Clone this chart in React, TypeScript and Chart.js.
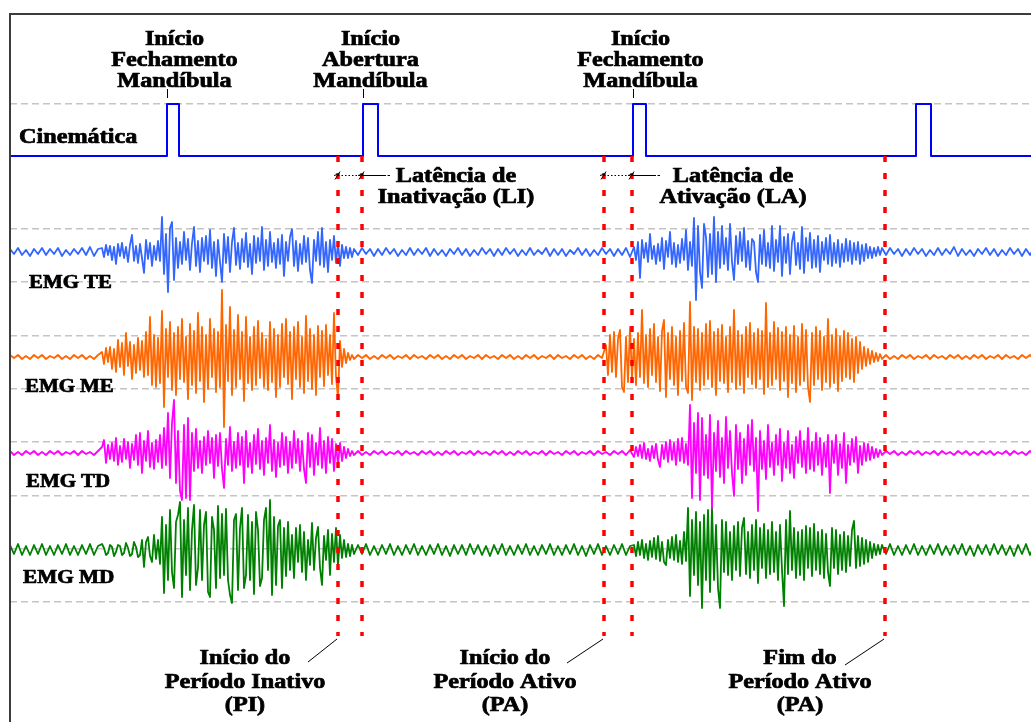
import React, { useEffect, useRef } from "react";
import { Chart, registerables } from "chart.js";

Chart.register(...registerables);

// ---------------- DATA ----------------
// Each EMG trace is stored as segments: resting parts sampled every 0.04 s,
// bursts sampled every 0.02 s. Amplitudes in arbitrary units.
const REST_STEP = 0.04;
const BURST_STEP = 0.02;

// segment start times (s): rest1, burst1, rest2, burst2, rest3
const teStarts = [0, 0.92, 3.48, 6.24, 8.76];
const meStarts = [0, 0.92, 3.48, 5.96, 8.76];
const tdStarts = [0, 0.92, 3.48, 6.24, 8.76];
const mdStarts = [0, 0.92, 3.48, 6.24, 8.76];

// ---- EMG TE (blue)
const teRest1 = [3, -2, 4, -3, 2, -4, 3, -2, 4, -3, 3, -2, 4, -4, 2, -3, 3, -2, 4, -3, 5, -4, 3];
const teBurst1 = [
  4, -5, 7, -3, 6, -8, 5, -12, 8, -4,
  9, -6, 5, -10, 7, 17, -9, 6, -11, 8,
  -6, -21, 12, -7, 9, -14, 6, -8, 11, -9,
  35, -22, 18, -40, 24, 30, -28, 14, -16, 10,
  -12, 20, -8, 13, -18, 9, 25, -14, 11, -20,
  14, -9, 16, -12, 22, -16, 10, -24, 12, -10,
  -30, 18, -11, 15, -20, 10, 24, -13, 9, -17,
  13, -10, 19, -15, 8, -22, 16, -11, 14, -9,
  25, -18, 12, -14, 20, -10, 9, -16, 13, -12,
  17, -24, 10, -9, 15, 23, -14, 11, -19, 8,
  -12, 16, -10, 14, -18, -31, 12, -9, 20, -13,
  24, -15, 10, -20, 12, -8, 16, -11, 9, -14,
  7, -6, 5, -6, 4, -5, 3,
];
const teRest2 = [
  -3, 4, -2, 3, -4, 3, -3, 4, -2, 3, -4, 2, -3, 4, -3, 3, -2, 4, -4, 3,
  -3, 2, -4, 3, -2, 4, -3, 3, -4, 2, -3, 4, -2, 3, -4, 3, -3, 4, -2, 3,
  -4, 2, -3, 4, -3, 2, -2, 4, -4, 3, -3, 3, -4, 2, -2, 4, -3, 3, -4, 2,
  -3, 4, -2, 3, -4, 3, -3, 4, -5,
];
const teBurst2 = [
  5, -8, 10, -26, 12, -6, 9, -10, 18, -7,
  6, -12, 8, -9, 14, -17, 11, -5, 20, -12,
  9, -15, 7, -11, 13, -8, 22, -18, 10, -14,
  34, -48, 26, -20, -36, 28, 15, -25, 18, -22,
  35, -30, 20, -16, 26, -12, 14, -18, 28, -10,
  -28, 16, -12, 20, -9, 24, -15, 11, -18, 13,
  10, -20, -30, 17, -12, 22, -14, 9, -16, 26,
  -19, 12, -10, 26, -24, 15, -11, 18, -22, 10,
  20, -13, 9, -17, 25, -21, 14, -9, 19, -16,
  12, -15, 16, -20, 10, -8, 14, -12, 17, -14,
  9, -11, 12, -15, 8, -10, 13, -9, 11, -12,
  9, -8, 10, -12, 7, -9, 8, -6, 5, -6,
  4, -4, 5, -3, 4,
];
const teRest3 = [
  -3, 4, -2, 3, -4, 3, -3, 4, -2, 3, -4, 2, -3, 4, -3, 3, -2, 5, -4, 3,
  -3, 2, -4, 3, -2, 4, -3, 3, -4, 2, -3, 4, -2, 3, -4, 3, -3, 4,
];

// ---- EMG ME (orange)
const meRest1 = [2, -1, 2, -2, 1, -2, 2, -1, 2, -2, 1, -1, 2, -2, 1, -2, 2, -1, 2, -2, 1, -2, 2];
const meBurst1 = [
  5, -7, 9, -5, 10, -12, 8, -15, 17, -10,
  14, -18, 24, -9, 15, -22, 12, -16, 19, -13,
  16, -20, 25, -18, 40, -28, 22, -30, 19, -26,
  46, -50, 28, -20, 35, -33, 24, -38, 30, -22,
  38, -25, 20, -42, 33, -28, 26, -36, 44, -24,
  30, -45, 22, -32, 38, -20, 28, -35, 25, -30,
  67, -70, 32, -24, 50, -38, 27, -30, 42, -22,
  25, -44, 40, -26, 20, -33, 30, -28, 36, -21,
  24, -30, 18, -33, 35, -25, 28, -40, 22, -30,
  33, -20, 38, -27, 25, -42, 30, -22, 35, -30,
  20, -36, 41, -24, 28, -32, 22, -38, 31, -20,
  26, -29, 32, -18, 22, -27, 44, -20, -41, 16,
  -10, 8, -6, 4, -3, 2, -2,
];
const meRest2 = [
  2, -1, 2, -2, 1, -2, 2, -1, 2, -2, 1, -1, 2, -2, 2, -1, 1, -2, 2, -1,
  2, -2, 1, -2, 2, -1, 2, -2, 1, -1, 2, -2, 2, -1, 1, -2, 2, -1, 2, -2,
  1, -2, 2, -1, 2, -2, 1, -1, 2, -2, 2, -1, 1, -2, 2, -1, 2, -2, 1, -2,
  2, -1,
];
const meBurst2 = [
  12, -18, 22, -15, 25, -20, 18, 27, -30, -35,
  20, -25, 30, -22, 18, -28, 24, -20, 47, -26,
  22, -30, 28, -18, 33, -25, 20, -34, 26, 37,
  -40, 24, -22, 30, -28, 20, -38, 26, -24, 34,
  -30, -36, 55, -43, 30, -25, 28, -33, 24, -28,
  33, -22, 36, -30, 25, -38, 28, -24, 32, -26,
  20, -35, 30, -25, 47, -32, 26, -28, 22, -36,
  30, -20, 34, -27, 24, -31, 28, -22, 26, -37,
  54, -30, 24, -28, 35, -22, 29, -33, 25, -24,
  30, -40, 22, -26, 31, -35, 20, -28, 33, -24,
  27, -30, -45, 24, -28, 30, -22, 26, -33, 20,
  -25, 38, -30, 22, -26, 28, -34, 20, -24, 26,
  -20, 24, -22, 18, -25, 20, -16, 15, -12, 10,
  -9, 8, -7, 6, -5, 4, -4, 3, -2,
];
const meRest3 = [
  2, -2, 1, -2, 2, -1, 2, -2, 1, -1, 2, -2, 2, -1, 1, -2, 2, -1, 2, -2,
  1, -2, 2, -1, 2, -2, 1, -1, 2, -2, 2, -1, 1, -2, 2, -1, 2, -2,
];

// ---- EMG TD (magenta)
const tdRest1 = [2, -2, 1, -2, 2, -1, 2, -2, 1, -2, 2, -1, 2, -2, 1, -1, 2, -2, 2, -1, 1, -2, 2];
const tdBurst1 = [
  6, 13, -10, 8, -6, 10, -8, 15, -12, 7,
  -9, 14, -6, 11, -15, 9, -7, 18, -12, 20,
  -20, 12, -8, 22, -14, 10, -16, 13, -9, 18,
  -15, 25, -12, 40, -25, 30, 53, -30, 22, -38,
  -47, 28, -45, 35, -47, 20, -18, 24, -15, 12,
  -20, 16, -12, 22, -10, 15, -25, 18, -13, 20,
  -16, -35, 14, -12, 26, -18, 11, -15, 20, -12,
  16, -30, 22, -14, 10, -20, 18, -11, 24, -16,
  12, -22, 15, -10, 28, -18, 13, -24, 10, -14,
  20, -12, 16, -20, 11, -15, 22, -10, 14, -18,
  12, -16, -30, 20, -14, 18, -22, 10, -12, 25,
  -15, 12, -20, 16, -10, 14, -18, 9, -12, 10,
  -8, 6, -5, 4, -3, 2, -2,
];
const tdRest2 = [
  2, -2, 1, -2, 2, -1, 2, -2, 1, -1, 2, -2, 2, -1, 1, -2, 2, -1, 2, -2,
  1, -2, 2, -1, 2, -2, 1, -1, 2, -2, 2, -1, 1, -2, 2, -1, 2, -2, 1, -2,
  2, -1, 2, -2, 1, -1, 2, -2, 2, -1, 1, -2, 2, -1, 2, -2, 1, -1, 2, -2,
  2, -1, 1, -2, 2, -1, 2, -2, 3,
];
const tdBurst2 = [
  -4, 6, -3, 8, -5, 10, -6, 4, -8, 7,
  -5, 9, -7, -14, 8, -6, 11, -9, 13, -7,
  10, -12, 14, -8, 15, -10, 9, -12, 48, -45,
  30, -20, 40, -47, 35, -22, 18, -25, 38, -55,
  20, -18, 32, -24, 15, -30, 36, -15, 22, -20,
  -43, 28, -16, 20, -30, 14, -22, 28, -12, 33,
  -18, 15, -58, 22, -16, 12, -26, 28, -14, 10,
  -22, 18, -12, 24, -28, 10, -15, 22, -20, 8,
  -25, 16, -10, 22, -14, 12, -20, 25, -16, 11,
  -18, 20, -12, 15, -22, 10, -14, 18, -40, 12,
  -10, 18, -22, 9, -15, 20, -30, 8, -12, 14,
  -9, 16, -20, 7, -12, 10, -8, 9, -7, 6,
  -5, 4, -4, 3, -2,
];
const tdRest3 = [
  2, -1, 2, -2, 1, -2, 2, -1, 2, -2, 1, -1, 2, -2, 2, -1, 1, -2, 2, -1,
  2, -2, 1, -2, 2, -1, 2, -2, 1, -1, 2, -2, 2, -1, 1, -2, 2, -1,
];

// ---- EMG MD (green)
const mdRest1 = [5, -4, 6, -5, 4, -5, 5, -4, 6, -5, 4, -5, 5, -4, 6, -5, 4, -5, 5, -4, 6, -5, 4];
const mdBurst1 = [
  6, 2, -5, -3, 5, 3, -6, -2, 5, 4,
  -5, -3, 7, 2, -6, -4, 8, 3, -7, -5,
  10, -17, 8, 13, -6, -12, 15, -9, 10, -14,
  33, -43, 25, -30, 40, -22, -38, 28, 35, 48,
  -47, 30, -25, 42, -40, 20, 45, -35, -18, 40,
  -30, 25, 38, -42, -47, 33, 20, -38, 44, -28,
  36, -25, 41, -30, -45, -53, 30, 36, -40, 22,
  42, -38, -25, 35, -30, 28, -44, 38, 20, -36,
  -28, 30, 42, -20, 50, -45, 33, -35, 24, 30,
  -38, 22, -26, 28, -20, 15, -28, 22, -12, 25,
  -22, 18, -30, 10, -15, 27, -20, 12, 23, -18,
  -35, 14, -10, 20, -25, 16, -12, 22, -16, 15,
  -8, 10, -7, 6, -6, 5, -4,
];
const mdRest2 = [
  5, -4, 6, -5, 4, -5, 5, -4, 6, -5, 4, -5, 5, -4, 6, -5, 4, -5, 5, -4,
  6, -5, 4, -6, 5, -4, 5, -5, 6, -4, 5, -5, 4, -6, 5, -4, 6, -5, 4, -5,
  5, -4, 6, -5, 4, -5, 5, -4, 6, -5, 4, -5, 5, -4, 6, -5, 4, -6, 5, -4,
  6, -5, 4, -5, 5, -4, 6, -5, 4,
];
const mdBurst2 = [
  5, -6, 8, -5, 10, -8, 6, -10, 9, -7,
  12, -9, 14, -11, 8, -12, -15, 10, -8, 13,
  -10, 15, -12, 9, -14, 18, -11, 42, -46, 30,
  -25, 38, -35, 28, -58, 35, -30, 40, -42, 43,
  -30, 25, -38, -58, 30, -22, 28, -25, 18, -30,
  24, -20, 28, -26, 22, 32, -24, 18, -28, 25,
  -20, 30, -33, 22, -18, 26, -28, 20, -24, 28,
  -22, 18, -30, 25, -20, -56, 30, -24, 39, -20,
  22, -28, 18, -25, 20, -30, 24, -18, 22, -26,
  26, -20, 18, -24, 20, -28, 16, -22, -36, 22,
  -18, 20, -24, 15, -20, 18, -22, 14, -16, 20,
  29, -18, 14, -16, 12, -14, 10, -12, 8, -8,
  6, -5, 5, -4, 5,
];
const mdRest3 = [
  -4, 6, -5, 4, -5, 5, -4, 6, -5, 4, -5, 5, -4, 6, -5, 4, -5, 5, -4, 6,
  -5, 4, -6, 5, -4, 5, -5, 6, -4, 5, -5, 4, -6, 5, -4, 6, -5, 4,
];

// kinematic pulses: onset (s) and duration (s)
const pulseOnsets = [1.57, 3.53, 6.23, 9.06];
const pulseWidths = [0.12, 0.15, 0.13, 0.15];

// red dotted event markers (s): start PI, opening, start PA, closing, end PA
const eventTimes = [3.28, 3.52, 5.94, 6.22, 8.75];

// latency intervals (s)
const latencyLI = [3.28, 3.52];
const latencyLA = [5.94, 6.22];

// reference grid levels
const gridLevels = [0, 1, 2, 3, 4, 5, 6, 7, 9.34];

const T_MAX = 10.4;

// ---------------- LAYOUT ----------------
const CANVAS_W = 1060;
const CANVAS_H = 760;
const FRAME = { left: 10, top: 14, right: 1050, bottom: 750 };

const band = (basePx: number, pxPerUnit: number) => ({
  min: -(FRAME.bottom - basePx) / pxPerUnit,
  max: (basePx - FRAME.top) / pxPerUnit,
});

const FONT = '"Liberation Serif", "Times New Roman", serif';

function text(
  ctx: CanvasRenderingContext2D,
  s: string,
  x: number,
  y: number,
  size: number,
  sx: number,
  align: CanvasTextAlign
) {
  ctx.save();
  ctx.font = `bold ${size}px ${FONT}`;
  ctx.fillStyle = "#000";
  ctx.strokeStyle = "#000";
  ctx.lineWidth = 0.7;
  ctx.lineJoin = "round";
  ctx.setLineDash([]);
  ctx.textAlign = align;
  ctx.textBaseline = "alphabetic";
  ctx.translate(x, y);
  ctx.scale(sx, 1);
  ctx.fillText(s, 0, 0);
  ctx.strokeText(s, 0, 0);
  ctx.restore();
}

function seg(ctx: CanvasRenderingContext2D, x1: number, y1: number, x2: number, y2: number) {
  ctx.beginPath();
  ctx.moveTo(x1, y1);
  ctx.lineTo(x2, y2);
  ctx.stroke();
}

const annotations = {
  id: "annotations",
  afterDraw(chart: any) {
    const { ctx, chartArea, scales } = chart;
    const X = (t: number) => scales.x.getPixelForValue(t);
    ctx.save();

    // frame
    ctx.strokeStyle = "#3c3c3c";
    ctx.lineWidth = 2;
    ctx.strokeRect(chartArea.left, chartArea.top, chartArea.right - chartArea.left, chartArea.bottom - chartArea.top);

    // small ticks above the first three pulses + labels
    const topLabels = [
      ["Início", "Fechamento", "Mandíbula"],
      ["Início", "Abertura", "Mandíbula"],
      ["Início", "Fechamento", "Mandíbula"],
    ];
    const topBase = [45, 66, 87];
    topLabels.forEach((lines, k) => {
      const x = Math.round(X(pulseOnsets[k])) + 0.5;
      ctx.strokeStyle = "#000";
      ctx.lineWidth = 1;
      seg(ctx, x, 89, x, 98);
      lines.forEach((l, j) => text(ctx, l, x + 7, topBase[j], 20, 1.21, "center"));
    });

    // channel names
    text(ctx, "Cinemática", 19, 143, 20, 1.21, "left");
    text(ctx, "EMG TE", 29, 288, 18, 1.16, "left");
    text(ctx, "EMG ME", 25, 392, 18, 1.16, "left");
    text(ctx, "EMG TD", 26, 487, 18, 1.16, "left");
    text(ctx, "EMG MD", 23, 583, 18, 1.18, "left");

    // latency brackets
    const latY = 175.5;
    ctx.strokeStyle = "#000";
    ctx.lineWidth = 1;
    [latencyLI, latencyLA].forEach(([a, b]) => {
      const xa = X(a);
      const xb = X(b);
      ctx.setLineDash([1.5, 2]);
      seg(ctx, xa, latY, xb, latY);
      ctx.setLineDash([]);
      seg(ctx, xb, latY, xb + 24, latY);
      seg(ctx, xb + 25.5, latY, xb + 28, latY);
      [xa, xb].forEach((x) => {
        seg(ctx, x - 3, latY + 4, x + 2, latY - 4);
        seg(ctx, x - 4, latY, x + 1, latY - 1.5);
      });
    });
    const latBase = [182, 203];
    ["Latência de", "Inativação (LI)"].forEach((l, j) => text(ctx, l, 456, latBase[j], 20, 1.21, "center"));
    ["Latência de", "Ativação (LA)"].forEach((l, j) => text(ctx, l, 733, latBase[j], 20, 1.21, "center"));

    // bottom labels with leaders
    const botBase = [664, 688, 711];
    const bottom = [
      { cx: 245, t: eventTimes[0], ex: 308, ey: 662, lines: ["Início do", "Período Inativo", "(PI)"] },
      { cx: 505, t: eventTimes[2], ex: 567, ey: 663, lines: ["Início do", "Período Ativo", "(PA)"] },
      { cx: 800, t: eventTimes[4], ex: 845, ey: 665, lines: ["Fim do", "Período Ativo", "(PA)"] },
    ];
    bottom.forEach((b) => {
      ctx.strokeStyle = "#000";
      ctx.lineWidth = 1;
      seg(ctx, X(b.t) - 1, 639, b.ex, b.ey);
      b.lines.forEach((l, j) => text(ctx, l, b.cx, botBase[j], 20, 1.21, "center"));
    });

    ctx.restore();
  },
};

function joinSegments(starts: number[], parts: number[][]) {
  const pts: { x: number; y: number }[] = [];
  parts.forEach((vals, k) => {
    const step = k % 2 === 0 ? REST_STEP : BURST_STEP;
    vals.forEach((v, i) => pts.push({ x: starts[k] + i * step, y: v }));
  });
  return pts;
}

function kinematicPoints() {
  const pts: { x: number; y: number }[] = [{ x: 0, y: 0 }];
  pulseOnsets.forEach((t, k) => {
    const w = pulseWidths[k];
    pts.push({ x: t, y: 0 }, { x: t, y: 1 }, { x: t + w, y: 1 }, { x: t + w, y: 0 });
  });
  pts.push({ x: T_MAX, y: 0 });
  return pts;
}

export default function App() {
  const ref = useRef<HTMLCanvasElement>(null);

  useEffect(() => {
    const canvas = ref.current;
    if (!canvas) return;

    const trace = (label: string, data: any[], color: string, axis: string, order: number, width = 1.8) => ({
      label,
      data,
      borderColor: color,
      backgroundColor: color,
      borderWidth: width,
      borderJoinStyle: "round" as const,
      pointRadius: 0,
      tension: 0,
      fill: false,
      yAxisID: axis,
      order,
    });

    const markers = eventTimes.map((t, k) => ({
      label: `event ${k}`,
      data: [
        { x: t, y: 0 },
        { x: t, y: -9.23 },
      ],
      borderColor: "#ff0000",
      borderWidth: 3.5,
      borderDash: [6, 11],
      pointRadius: 0,
      fill: false,
      yAxisID: "yK",
      order: 0,
    }));

    const grid = band(602, 53.333);
    const kin = band(156, 52);
    const te = band(252, 1);
    const me = band(357, 1);
    const td = band(453, 1);
    const md = band(550, 1);

    const chart = new Chart(canvas, {
      type: "line",
      data: {
        datasets: [
          ...markers,
          trace("Cinemática", kinematicPoints(), "#0000ff", "yK", 1, 2),
          trace("EMG TE", joinSegments(teStarts, [teRest1, teBurst1, teRest2, teBurst2, teRest3]), "#3366ff", "yTE", 2),
          trace("EMG ME", joinSegments(meStarts, [meRest1, meBurst1, meRest2, meBurst2, meRest3]), "#ff6600", "yME", 3),
          trace("EMG TD", joinSegments(tdStarts, [tdRest1, tdBurst1, tdRest2, tdBurst2, tdRest3]), "#ff00ff", "yTD", 4),
          trace("EMG MD", joinSegments(mdStarts, [mdRest1, mdBurst1, mdRest2, mdBurst2, mdRest3]), "#008000", "yMD", 5),
        ] as any,
      },
      options: {
        responsive: false,
        animation: false,
        devicePixelRatio: 1,
        events: [],
        layout: {
          padding: {
            left: FRAME.left,
            top: FRAME.top,
            right: CANVAS_W - FRAME.right,
            bottom: CANVAS_H - FRAME.bottom,
          },
        },
        plugins: {
          legend: { display: false },
          tooltip: { enabled: false },
        },
        scales: {
          x: { type: "linear", min: 0, max: T_MAX, display: false },
          y: {
            type: "linear",
            position: "left",
            min: grid.min,
            max: grid.max,
            afterBuildTicks: (scale: any) => {
              scale.ticks = gridLevels.map((v) => ({ value: v }));
            },
            afterFit: (scale: any) => {
              scale.width = 0;
            },
            ticks: { display: false },
            grid: { color: "#c4c4c4", lineWidth: 1.5, drawTicks: false },
            border: { display: false, dash: [7, 4] },
          },
          yK: { type: "linear", min: kin.min, max: kin.max, display: false },
          yTE: { type: "linear", min: te.min, max: te.max, display: false },
          yME: { type: "linear", min: me.min, max: me.max, display: false },
          yTD: { type: "linear", min: td.min, max: td.max, display: false },
          yMD: { type: "linear", min: md.min, max: md.max, display: false },
        } as any,
      },
      plugins: [annotations],
    });

    return () => chart.destroy();
  }, []);

  return (
    <div
      style={{
        position: "fixed",
        left: 0,
        top: 0,
        width: 1031,
        height: 722,
        overflow: "hidden",
        background: "#fff",
      }}
    >
      <canvas
        ref={ref}
        width={CANVAS_W}
        height={CANVAS_H}
        style={{ display: "block", width: CANVAS_W, height: CANVAS_H }}
      />
    </div>
  );
}
